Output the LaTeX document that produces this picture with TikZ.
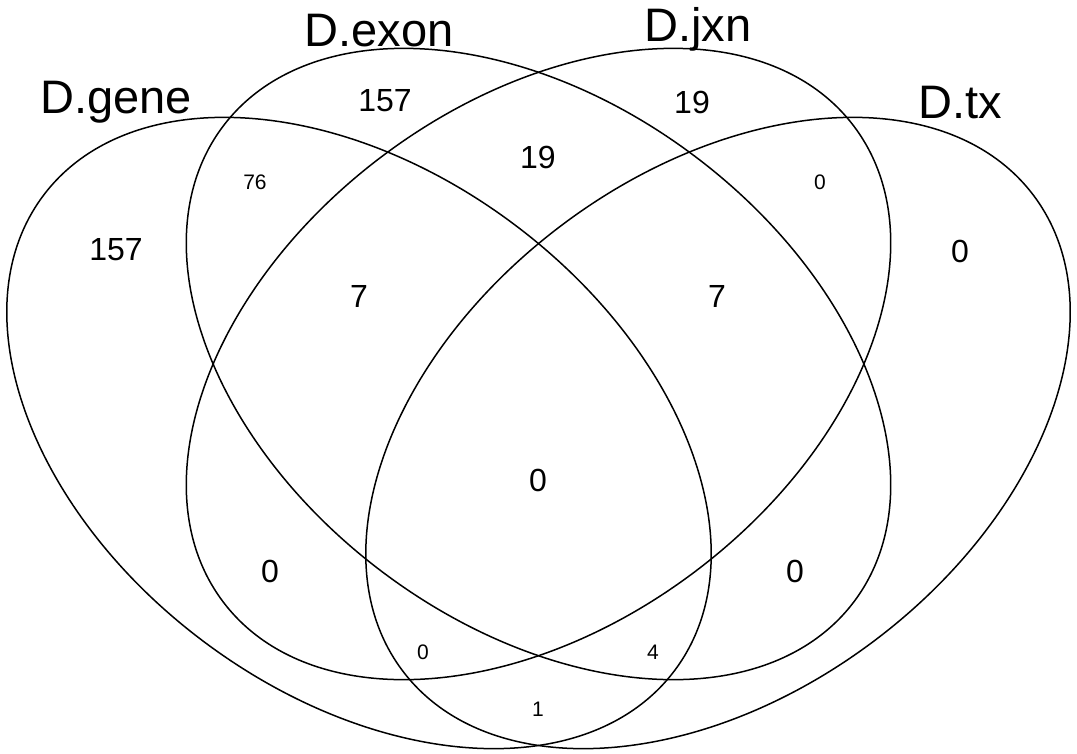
\documentclass[tikz,border=0pt]{standalone}
\usepackage{fontspec}
\setmainfont{Liberation Sans}
\usetikzlibrary{shapes.geometric}

\begin{document}
\begin{tikzpicture}[x=1pt, y=-1pt,
	venn/.style = {ellipse, draw, line width=1.5pt, inner sep=0pt, minimum width=790pt, minimum height=520pt},
	setname/.style = {anchor=base, inner sep=0pt, font=\fontsize{47}{47}\selectfont},
	cnt/.style = {inner sep=0pt, font=\fontsize{32}{32}\selectfont},
	cntsmall/.style = {inner sep=0pt, font=\fontsize{21}{21}\selectfont}]
	\useasboundingbox (0,0) rectangle (1077,753);
	% the four sets
	\node (gene) at (359,433) [venn, rotate=-37] {};
	\node (exon) at (538.5,364) [venn, rotate=-37] {};
	\node (jxn) at (538.5,364) [venn, rotate=37] {};
	\node (tx) at (718,433) [venn, rotate=37] {};
	% set names
	\node (genename) at (116,113) [setname] {D.gene};
	\node (exonname) at (379,46) [setname] {D.exon};
	\node (jxnname) at (698,41) [setname] {D.jxn};
	\node (txname) at (960,118) [setname] {D.tx};
	% counts
	\node (nG) at (116,250) [cnt] {157};
	\node (nE) at (385,101) [cnt] {157};
	\node (nJ) at (692,102) [cnt] {19};
	\node (nT) at (960,251) [cnt] {0};
	\node (nEJ) at (538,157) [cnt] {19};
	\node (nGE) at (255,182) [cntsmall] {76};
	\node (nJT) at (820,182) [cntsmall] {0};
	\node (nGEJ) at (359,296) [cnt] {7};
	\node (nEJT) at (717,296) [cnt] {7};
	\node (nGEJT) at (538,480) [cnt] {0};
	\node (nGJ) at (270,571) [cnt] {0};
	\node (nET) at (795,571) [cnt] {0};
	\node (nGJT) at (423,652) [cntsmall] {0};
	\node (nGET) at (653,652) [cntsmall] {4};
	\node (nGT) at (538,709) [cntsmall] {1};
\end{tikzpicture}
\end{document}
